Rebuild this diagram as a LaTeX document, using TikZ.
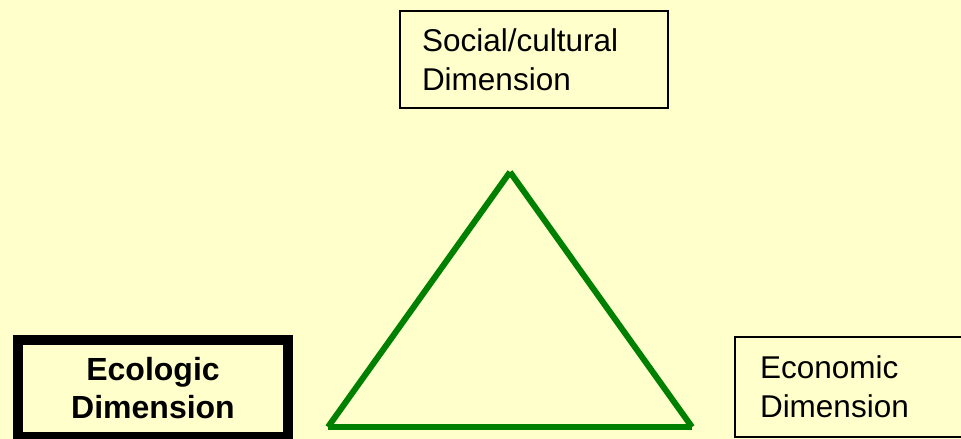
\documentclass[tikz,border=0pt]{standalone}
\usepackage{fontspec}
\setmainfont{Liberation Sans}
\definecolor{bgyellow}{HTML}{FFFFCC}
\definecolor{trigreen}{HTML}{008000}
\begin{document}
\begin{tikzpicture}[x=1pt,y=-1pt,
  thinbox/.style={draw=black, line width=2pt, fill=bgyellow, rectangle, inner sep=0pt,
    align=left, font=\fontsize{31.5}{39}\selectfont},
  thickbox/.style={draw=black, line width=10pt, fill=bgyellow, rectangle, inner sep=0pt,
    align=center, font=\fontsize{32}{38}\selectfont\bfseries},
  side/.style={draw=trigreen, line width=6pt, line cap=butt}]
\fill[bgyellow] (0,0) rectangle (961,439);
\useasboundingbox (0,0) rectangle (961,439);
\clip (0,0) rectangle (961,439);
\node[thinbox, minimum width=268pt, minimum height=97pt, text width=224pt] (social) at (534,59.5)
  {Social/cultural\\Dimension};
\node[thickbox, minimum width=270pt, minimum height=97pt, text width=240pt] (ecol) at (153,388.5)
  {Ecologic\\Dimension};
\node[thinbox, minimum width=300pt, minimum height=100pt, text width=250pt] (econ) at (885,387)
  {Economic\\Dimension};
\coordinate (apex) at (510,172);
\coordinate (bl) at (328,427);
\coordinate (br) at (692,427);
\draw[side] (bl) -- (apex);
\draw[side] (apex) -- (br);
\draw[side] (bl) -- (br);
\end{tikzpicture}
\end{document}
